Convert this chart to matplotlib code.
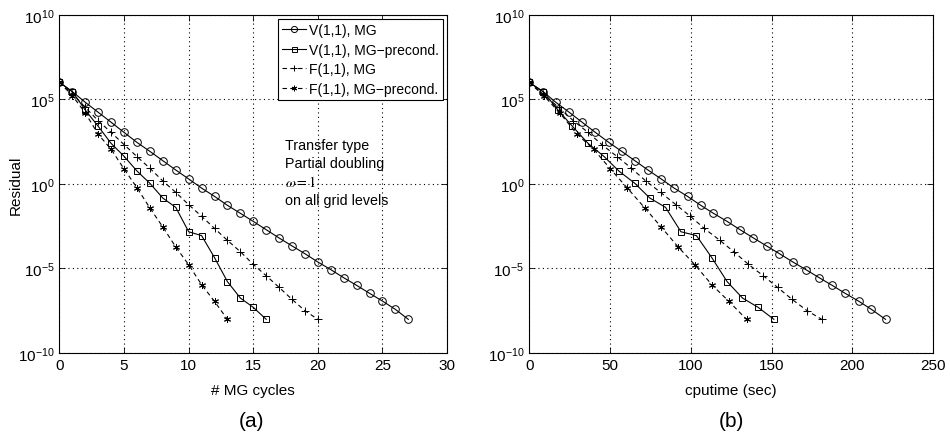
import numpy as np
import matplotlib
matplotlib.use("Agg")
import matplotlib.pyplot as plt
from matplotlib.ticker import FixedLocator, NullLocator

plt.rcParams['font.family'] = ['Liberation Sans', 'DejaVu Sans']
plt.rcParams['mathtext.fontset'] = 'stix'

# log10 of residual per cycle
v_mg = [6.0, 5.45, 4.82, 4.23, 3.64, 3.04, 2.45, 1.92, 1.37, 0.82, 0.29,
        -0.25, -0.74, -1.27, -1.74, -2.22, -2.71, -3.20, -3.67, -4.13, -4.62,
        -5.07, -5.55, -6.00, -6.47, -6.93, -7.42, -8.01]
v_pre = [6.0, 5.45, 4.36, 3.40, 2.39, 1.63, 0.76, 0.03, -0.84, -1.39, -2.83,
         -3.06, -4.36, -5.78, -6.75, -7.30, -8.01]
f_mg = [6.0, 5.31, 4.52, 3.73, 3.04, 2.32, 1.61, 0.92, 0.17, -0.50, -1.23,
        -1.92, -2.63, -3.34, -4.01, -4.76, -5.43, -6.12, -6.83, -7.50, -8.01]
f_pre = [6.0, 5.21, 4.19, 2.93, 2.04, 0.88, -0.23, -1.43, -2.55, -3.73,
         -4.78, -5.96, -6.95, -8.01]

# cpu time (sec) at each cycle
t_v_mg = [0, 8.7, 16.5, 24.8, 32.8, 41.0, 49.3, 57.3, 65.4, 73.5, 81.7, 89.7,
          98.0, 106.2, 114.0, 122.5, 130.5, 138.8, 146.9, 154.9, 163.2, 171.2,
          179.5, 187.5, 195.5, 203.8, 211.8, 220.5]
t_v_pre = [0, 8.7, 17.9, 26.8, 36.5, 46.2, 55.5, 65.4, 74.7, 84.4, 93.9,
           103.5, 113.0, 122.5, 132.0, 141.7, 151.4]
t_f_mg = [0, 8.7, 18.2, 27.4, 36.5, 45.0, 54.5, 63.3, 72.2, 81.3, 90.8, 99.8,
          108.3, 118.0, 126.6, 135.7, 144.8, 153.7, 162.7, 172.0, 181.1]
t_f_pre = [0, 9.1, 19.0, 29.7, 40.0, 50.3, 60.6, 71.6, 81.7, 92.2, 102.5,
           113.0, 123.6, 134.5]

labels = ['V(1,1), MG', 'V(1,1), MG\u2212precond.',
          'F(1,1), MG', 'F(1,1), MG\u2212precond.']
styles = [dict(ls='-', marker='o', ms=5.5, mfc='none'),
          dict(ls='-', marker='s', ms=4.5, mfc='none'),
          dict(ls=(0, (4, 3)), marker='+', ms=6),
          dict(ls=(0, (4, 3)), marker=(6, 2, 0), ms=5)]

fig = plt.figure(figsize=(9.5, 4.39), dpi=100)
ax1 = fig.add_axes([0.0626, 0.1936, 0.408, 0.7706])
ax2 = fig.add_axes([0.557, 0.1936, 0.4253, 0.7706])

series_a = [np.arange(len(v_mg)), np.arange(len(v_pre)),
            np.arange(len(f_mg)), np.arange(len(f_pre))]
series_b = [t_v_mg, t_v_pre, t_f_mg, t_f_pre]
ys = [v_mg, v_pre, f_mg, f_pre]

for ax, xs in [(ax1, series_a), (ax2, series_b)]:
    for x, y, st, lab in zip(xs, ys, styles, labels):
        ax.semilogy(x, 10.0 ** np.array(y), color='black', lw=0.8,
                    mec='black', mew=0.7, label=lab, **st)
    ax.set_ylim(1e-10, 1e10)
    ax.yaxis.set_major_locator(FixedLocator([1e-10, 1e-5, 1e0, 1e5, 1e10]))
    ax.yaxis.set_minor_locator(NullLocator())
    ax.grid(True, which='major', color='black', ls=(0, (1, 3)), lw=0.8)
    ax.tick_params(direction='in', top=True, right=True, labelsize=11,
                   length=4, width=0.6)
    for s in ax.spines.values():
        s.set_linewidth(0.8)

ax1.set_xlim(0, 30)
ax1.set_xticks(range(0, 31, 5))
ax2.set_xlim(0, 250)
ax2.set_xticks(range(0, 251, 50))

ax1.set_ylabel('Residual', fontsize=11)
ax1.yaxis.set_label_coords(-0.095, 0.5)
ax1.set_xlabel('# MG cycles', fontsize=11, labelpad=8)
ax2.set_xlabel('cputime (sec)', fontsize=11, labelpad=8)
fig.text(0.265, 0.04, '(a)', ha='center', va='center', fontsize=15)
fig.text(0.77, 0.04, '(b)', ha='center', va='center', fontsize=15)

leg = ax1.legend(loc='upper right', fontsize=10, handlelength=1.75,
                 borderaxespad=0.3, borderpad=0.3, labelspacing=0.4,
                 handletextpad=0.2, fancybox=False, framealpha=1,
                 edgecolor='black', markerscale=0.8)
leg.get_frame().set_linewidth(0.8)

ax1.text(0.583, 0.635, 'Transfer type\nPartial doubling\n$\\omega = 1$\non all grid levels',
         transform=ax1.transAxes, fontsize=10.3, va='top', ha='left',
         linespacing=1.35)

fig.savefig('out.png', dpi=100)
